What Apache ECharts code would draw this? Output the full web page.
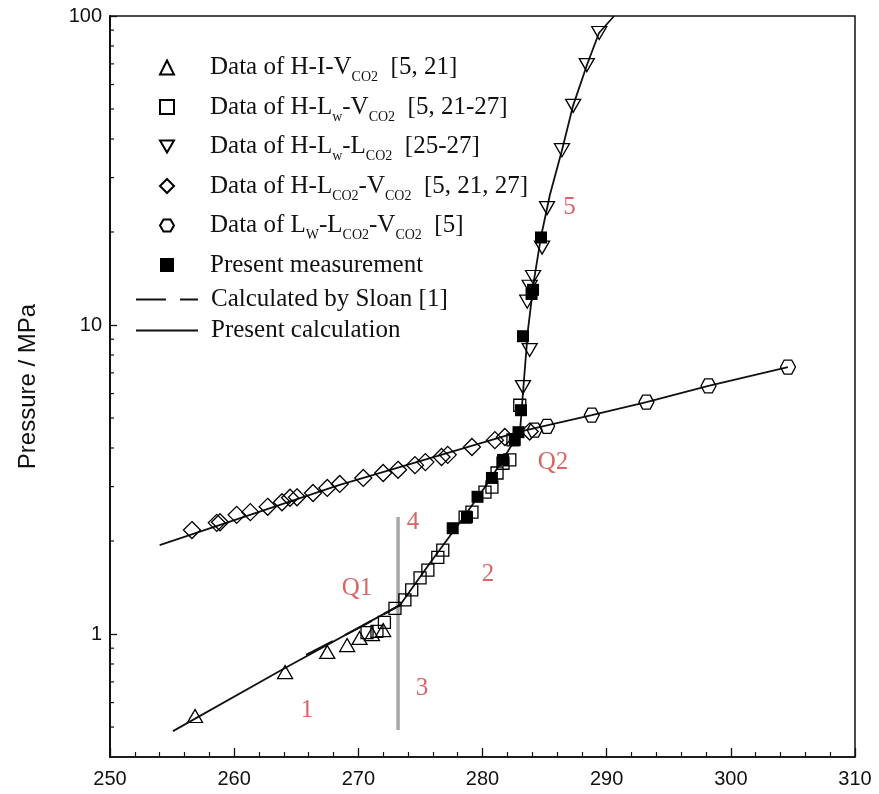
<!DOCTYPE html>
<html><head><meta charset="utf-8">
<script src="https://cdn.jsdelivr.net/npm/echarts@6/dist/echarts.min.js"></script>
<style>html,body{margin:0;padding:0;background:#fff}#c{width:879px;height:794px}</style>
</head><body><div id="c"></div>
<script>
// ---- data (T / K, P / MPa) ----
const hivData = [[256.85,0.543],[264.1,0.753],[267.5,0.875],[269.1,0.921],[270.1,0.971],[271.1,1.0],[272.0,1.03]];
const hlwvData = [[270.7,1.01],[271.5,1.02],[272.1,1.09],[272.95,1.21],[273.75,1.29],[274.3,1.39],[274.97,1.52],[275.6,1.61],[276.4,1.77],[276.8,1.87],[278.6,2.39],[279.15,2.48],[280.2,2.88],[280.76,2.99],[281.17,3.32],[281.65,3.57],[282.2,3.66],[282.45,4.25],[283.0,5.5]];
const hlwlData = [[289.4,88.1],[288.4,69.4],[287.3,51.2],[286.4,36.8],[285.2,23.9],[284.8,17.8],[284.07,14.3],[283.8,13.3],[283.6,11.9],[283.8,8.3],[283.26,6.3]];
const hlvData = [[256.6,2.17],[258.6,2.29],[258.86,2.30],[260.2,2.43],[261.3,2.48],[262.7,2.58],[263.85,2.67],[264.5,2.76],[265.06,2.77],[266.35,2.86],[267.5,2.97],[268.5,3.06],[270.4,3.20],[272.0,3.32],[273.2,3.40],[274.56,3.52],[275.4,3.60],[276.7,3.74],[277.2,3.80],[279.15,4.03],[281.0,4.24],[281.8,4.34],[283.8,4.52]];
const llvData = [[284.2,4.57],[285.2,4.70],[288.8,5.11],[293.2,5.63],[298.2,6.35],[304.6,7.31]];
const presentData = [[284.71,19.2],[284.07,13.0],[283.95,12.6],[283.26,9.2],[283.1,5.3],[282.9,4.5],[282.6,4.25],[281.65,3.66],[280.76,3.20],[279.6,2.78],[278.75,2.39],[277.6,2.20]];
const calcLower = [[255.07,0.485],[264.1,0.776],[273.35,1.24],[275.77,1.697],[278.19,2.30],[280.6,3.15],[283.02,4.51],[283.34,6.64],[283.66,9.63],[284.15,14.0],[284.71,19.3],[285.43,26.4],[286.4,36.8],[287.29,51.2],[288.41,69.4],[289.38,88.1],[290.6,100]];
const calcUpper = [[254.0,1.94],[268.5,3.04],[283.0,4.52],[288.8,5.11],[293.2,5.63],[298.2,6.35],[304.6,7.31]];
const sloanData = [[265.8,0.855],[270.0,1.045],[273.35,1.24]];
const icePointLine = [[273.2,0.489],[273.2,2.39]];
const annotations = [
  {name:'1', value:[265.87,0.567]},
  {name:'2', value:[280.44,1.56]},
  {name:'3', value:[275.13,0.665]},
  {name:'4', value:[274.4,2.30]},
  {name:'5', value:[287.0,24.0]},
  {name:'Q1', value:[269.9,1.40]},
  {name:'Q2', value:[285.68,3.58]}
];
const yMinorTicks = [0.5,0.6,0.7,0.8,0.9,2,3,4,5,6,7,8,9,20,30,40,50,60,70,80,90];
const yTickLabels = [1,10,100];

const N1='Data of H-I-VCO2 [5, 21]', N2='Data of H-Lw-VCO2 [5, 21-27]', N3='Data of H-Lw-LCO2 [25-27]',
      N4='Data of H-LCO2-VCO2 [5, 21, 27]', N5='Data of LW-LCO2-VCO2 [5]', N6='Present measurement',
      N7='Calculated by Sloan [1]', N8='Present calculation';
const richNames = {};
richNames[N1]='{a|Data of H-I-V}{s|CO2}{a|  [5, 21]}';
richNames[N2]='{a|Data of H-L}{s|w}{a|-V}{s|CO2}{a|  [5, 21-27]}';
richNames[N3]='{a|Data of H-L}{s|w}{a|-L}{s|CO2}{a|  [25-27]}';
richNames[N4]='{a|Data of H-L}{s|CO2}{a|-V}{s|CO2}{a|  [5, 21, 27]}';
richNames[N5]='{a|Data of L}{s|W}{a|-L}{s|CO2}{a|-V}{s|CO2}{a|  [5]}';
richNames[N6]='{a|Present measurement}';
richNames[N7]='{b|Calculated by Sloan [1]}';
richNames[N8]='{b|Present calculation}';

const SERIF='"Liberation Serif","Times New Roman",serif';
const SANS='"Liberation Sans",Arial,sans-serif';
const hollow = {color:'rgba(255,255,255,0)', borderColor:'#000', borderWidth:1.3, opacity:1};
const hexPath = 'path://M-1,0L-0.5,-0.866L0.5,-0.866L1,0L0.5,0.866L-0.5,0.866Z';
const downTri = 'path://M0,0L2,0L1,1.73Z';

const chart = echarts.init(document.getElementById('c'), null, {renderer:'canvas'});
chart.setOption({
  animation:false,
  backgroundColor:'#fff',
  grid:{left:110,right:24,top:16,bottom:37,show:true,borderColor:'#111',borderWidth:1.5,backgroundColor:'transparent'},
  legend:[{
    orient:'vertical', left:154, top:50, itemWidth:14, itemHeight:14, itemGap:10,
    data:[N1,N2,N3,N4,N5,N6],
    formatter:n=>richNames[n],
    textStyle:{padding:[0,0,0,31],color:'#111',
      rich:{a:{fontFamily:SERIF,fontSize:25,lineHeight:34,color:'#111'},
            s:{fontFamily:SERIF,fontSize:14,lineHeight:14,verticalAlign:'bottom',color:'#111'}}}
  },{
    orient:'vertical', left:130, top:282, itemWidth:62, itemHeight:14, itemGap:6,
    data:[{name:N7,itemStyle:{opacity:0}},{name:N8,itemStyle:{opacity:0}}],
    formatter:n=>richNames[n],
    textStyle:{padding:[0,0,0,8],color:'#111',
      rich:{b:{fontFamily:SERIF,fontSize:25,lineHeight:26,color:'#111'}}}
  }],
  xAxis:{type:'value',min:250,max:310,interval:10,
    axisLine:{show:true,lineStyle:{color:'#111',width:1.5}},
    axisTick:{show:true,inside:true,length:9,lineStyle:{color:'#111',width:1.3}},
    minorTick:{show:true,splitNumber:5,length:5,lineStyle:{color:'#111',width:1.2}},
    splitLine:{show:false},minorSplitLine:{show:false},
    axisLabel:{fontFamily:SANS,fontSize:20,color:'#111',margin:12}},
  yAxis:{type:'log',logBase:10,min:0.4,max:100,
    name:'Pressure / MPa',nameLocation:'middle',nameGap:70,
    nameTextStyle:{fontFamily:SANS,fontSize:24,color:'#111'},
    axisLine:{show:true,lineStyle:{color:'#111',width:2}},
    axisTick:{show:true,inside:true,length:7,lineStyle:{color:'#111',width:1.3}},
    splitLine:{show:false},
    axisLabel:{fontFamily:SANS,fontSize:20,color:'#111',margin:8,showMinLabel:false,
      formatter:v=>{const r=yTickLabels.find(t=>Math.abs(t-v)<1e-6*t);return r?String(r):'';}}},
  series:[
    {type:'custom',silent:true,clip:false,z:5,data:yMinorTicks.map(v=>[250,v]),
      renderItem:(params,api)=>{const p=api.coord([api.value(0),api.value(1)]);
        return {type:'line',shape:{x1:p[0],y1:p[1],x2:p[0]+4,y2:p[1]},style:{stroke:'#111',lineWidth:1.2}};}},
    {name:'gray',type:'line',data:icePointLine,symbol:'none',silent:true,lineStyle:{color:'#a8a8a8',width:3.5},z:1},
    {name:N8,type:'line',data:calcLower,symbol:'none',itemStyle:{color:'#111'},lineStyle:{color:'#111',width:1.8},z:2},
    {name:N8,type:'line',data:calcUpper,symbol:'none',itemStyle:{color:'#111'},lineStyle:{color:'#111',width:1.8},z:2},
    {name:N7,type:'line',data:sloanData,symbol:'none',itemStyle:{color:'#111'},lineStyle:{color:'#111',width:2.2,type:[30,14]},z:2},
    {name:N1,type:'scatter',data:hivData,symbol:'triangle',symbolSize:[15,13],itemStyle:hollow,z:3},
    {name:N2,type:'scatter',data:hlwvData,symbol:'rect',symbolSize:12,itemStyle:hollow,z:3},
    {name:N3,type:'scatter',data:hlwlData,symbol:downTri,symbolSize:[15,13],itemStyle:hollow,z:3},
    {name:N4,type:'scatter',data:hlvData,symbol:'diamond',symbolSize:17,itemStyle:hollow,z:3},
    {name:N5,type:'scatter',data:llvData,symbol:hexPath,symbolSize:[15,14],itemStyle:hollow,z:3},
    {name:N6,type:'scatter',data:presentData,symbol:'rect',symbolSize:12,itemStyle:{color:'#000',opacity:1},z:4},
    {name:'labels',type:'scatter',data:annotations,symbolSize:1,silent:true,itemStyle:{color:'rgba(0,0,0,0)'},z:6,
      label:{show:true,position:'inside',formatter:'{b}',fontFamily:SERIF,fontSize:25,color:'#d23c3c'}}
  ]
});
</script></body></html>
